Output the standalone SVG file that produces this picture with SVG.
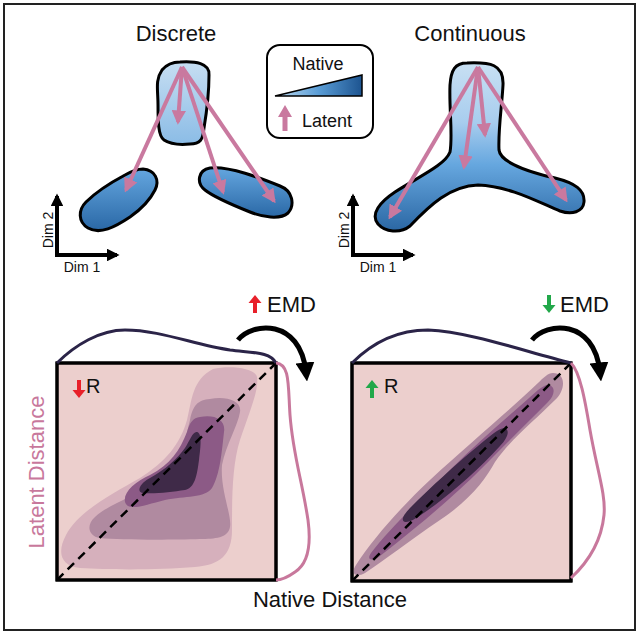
<svg xmlns="http://www.w3.org/2000/svg" width="640" height="639" viewBox="0 0 640 639">
<defs>
<style>
.t{font-family:"Liberation Sans",Arial,sans-serif;fill:#111}
.blob{stroke:#000;stroke-width:3;stroke-linejoin:round}
.pa{stroke:#c9799f;stroke-width:4;fill:none;marker-end:url(#ph)}
.ax{stroke:#000;stroke-width:4;fill:none;marker-end:url(#ah)}
.sq{fill:#eccfcd;stroke:#000;stroke-width:3}
.dash{stroke:#000;stroke-width:2.5;stroke-dasharray:9 6;fill:none}
.c1{fill:#d6b0bc}.c2{fill:#b08aa0}.c3{fill:#8c5a86}.c4{fill:#3f2a48}
.top{fill:none;stroke:#2b2448;stroke-width:3}
.side{fill:none;stroke:#c8789c;stroke-width:3}
.curv{fill:none;stroke:#000;stroke-width:5;marker-end:url(#ch)}
</style>
<linearGradient id="gTop" x1="0" y1="0" x2="0" y2="1"><stop offset="0" stop-color="#c6def2"/><stop offset="1" stop-color="#8bbce6"/></linearGradient>
<linearGradient id="gLow" x1="0" y1="0" x2="0" y2="1"><stop offset="0" stop-color="#64a6df"/><stop offset="1" stop-color="#2a68a6"/></linearGradient>
<linearGradient id="gCont" gradientUnits="userSpaceOnUse" x1="0" y1="63" x2="0" y2="232"><stop offset="0" stop-color="#c8e0f3"/><stop offset="0.35" stop-color="#a8cdee"/><stop offset="0.6" stop-color="#66a7df"/><stop offset="1" stop-color="#2a66a3"/></linearGradient>
<linearGradient id="gLeg" x1="0" y1="0" x2="1" y2="0"><stop offset="0" stop-color="#c0dcf2"/><stop offset="0.5" stop-color="#5a9dd6"/><stop offset="1" stop-color="#1d5490"/></linearGradient>
<marker id="ph" viewBox="0 0 10 10" refX="8" refY="5" markerWidth="3.6" markerHeight="3.6" orient="auto" markerUnits="strokeWidth"><path d="M0,0 L10,5 L0,10 Z" fill="#c9799f"/></marker>
<marker id="ah" viewBox="0 0 10 10" refX="8" refY="5" markerWidth="3.2" markerHeight="3.2" orient="auto" markerUnits="strokeWidth"><path d="M0,0 L10,5 L0,10 Z" fill="#000"/></marker>
<marker id="ch" viewBox="0 0 10 10" refX="5" refY="5" markerWidth="3.8" markerHeight="3.8" orient="auto" markerUnits="strokeWidth"><path d="M0,0 L10,5 L0,10 Z" fill="#000"/></marker>
</defs>
<rect x="4" y="4" width="631" height="626" fill="#fff" stroke="#222" stroke-width="2"/>

<g id="discrete">
<text class="t" x="176" y="41" font-size="22" text-anchor="middle">Discrete</text>
<path class="blob" fill="url(#gTop)" d="M180,62 C195,61 210,63 209,75 C209,95 207,110 204,128 C203,140 200,144 190,144 C180,145 170,144 164,140 C158,136 158,120 158,105 C158,90 155,80 162,70 C167,64 173,62 180,62 Z"/>
<path class="blob" fill="url(#gLow)" d="M143,169 C155,170 160,180 155,190 C150,200 140,210 130,217 C115,227 100,235 88,228 C78,222 78,210 86,202 C96,192 110,183 125,175 C132,171 138,169 143,169 Z"/>
<path class="blob" fill="url(#gLow)" d="M210,168 C230,166 260,178 280,186 C293,191 295,205 288,213 C280,220 262,217 250,212 C235,206 215,198 205,190 C196,183 198,170 210,168 Z"/>
</g>

<g id="continuous">
<text class="t" x="470" y="41" font-size="22" text-anchor="middle">Continuous</text>
<path class="blob" fill="url(#gCont)" d="M467,63 C490,62 504,64 503,85 C502,105 498,130 499,150 C500,160 520,170 555,178 C575,183 585,190 584,202 C583,212 572,215 560,211 C540,203 510,186 478,185 C450,186 430,205 410,226 C400,234 385,232 378,224 C370,214 380,202 395,192 C420,176 445,165 450,152 C453,135 449,110 450,85 C451,70 455,63 467,63 Z"/>
</g>

<g id="legend">
<rect x="267" y="45" width="106" height="93" rx="13" fill="#fff" stroke="#000" stroke-width="2"/>
<text class="t" x="318" y="70" font-size="18" text-anchor="middle">Native</text>
<path d="M275,96 L362,75 L362,96 Z" fill="url(#gLeg)" stroke="#000" stroke-width="1.5"/>
<path d="M282.5,131 L282.5,117 L278,117 L285,105 L292,117 L287.5,117 L287.5,131 Z" fill="#c9799f"/>
<text class="t" x="302" y="127" font-size="18">Latent</text>
</g>

<g id="connectors">
<line class="pa" x1="182" y1="67" x2="178" y2="122"/>
<line class="pa" x1="182" y1="67" x2="126" y2="190"/>
<line class="pa" x1="182" y1="67" x2="223" y2="192"/>
<line class="pa" x1="182" y1="67" x2="274" y2="201"/>
<line class="pa" x1="478" y1="67" x2="390" y2="217"/>
<line class="pa" x1="478" y1="67" x2="464" y2="167"/>
<line class="pa" x1="478" y1="67" x2="485" y2="135"/>
<line class="pa" x1="478" y1="67" x2="566" y2="200"/>
<line class="ax" x1="57" y1="257" x2="57" y2="196"/>
<line class="ax" x1="55" y1="255" x2="117" y2="255"/>
<line class="ax" x1="353" y1="257" x2="353" y2="196"/>
<line class="ax" x1="351" y1="255" x2="413" y2="255"/>
</g>

<g id="axis-labels">
<text class="t" x="82" y="272" font-size="14" text-anchor="middle">Dim 1</text>
<text class="t" x="0" y="0" font-size="14" text-anchor="middle" transform="translate(53,230) rotate(-90)">Dim 2</text>
<text class="t" x="378" y="272" font-size="14" text-anchor="middle">Dim 1</text>
<text class="t" x="0" y="0" font-size="14" text-anchor="middle" transform="translate(349,230) rotate(-90)">Dim 2</text>
</g>

<g id="plot-left">
<rect class="sq" x="57" y="363" width="219" height="217"/>
<path class="c1" d="M213,369 C230,365 255,368 257,377 C259,390 250,410 240,440 C232,465 232,500 232,530 C232,555 220,565 195,567 C160,570 110,570 80,568 C60,566 57,552 66,535 C78,512 110,495 140,478 C165,462 180,445 187,420 C192,400 192,380 213,369 Z"/>
<path class="c2" d="M210,399 C225,396 242,400 240,412 C238,425 226,445 222,465 C220,490 232,515 230,527 C228,538 215,539 200,539 C170,540 120,540 100,538 C88,536 86,525 95,517 C110,503 140,495 160,480 C180,465 185,440 190,420 C193,405 198,400 210,399 Z"/>
<path class="c3" d="M200,417 C215,414 226,420 224,432 C222,450 220,475 212,488 C205,498 185,496 165,500 C145,505 128,512 125,502 C123,492 135,482 150,475 C170,465 180,450 187,432 C190,422 193,418 200,417 Z"/>
<path class="c4" d="M197,432 C202,433 201,445 199,460 C197,475 195,488 185,490 C172,492 155,494 143,493 C136,492 140,483 150,478 C165,470 178,458 185,448 C190,440 193,431 197,432 Z"/>
<rect x="57" y="363" width="219" height="217" fill="none" stroke="#000" stroke-width="3"/>
<line class="dash" x1="57" y1="580" x2="276" y2="363"/>
<path class="top" d="M57,363 C75,345 100,330 125,330 C160,330 195,345 230,350 C255,353 270,352 276,363"/>
<path class="side" d="M276,363 C290,364 288,385 290,415 C293,455 302,480 308,520 C312,550 306,565 295,572 C288,577 282,580 276,580"/>
<path class="curv" d="M238,340 C252,322 300,318 306,372"/>
<path d="M253,313 L253,303 L248.5,303 L255,295 L261.5,303 L257,303 L257,313 Z" fill="#e8202a"/>
<text class="t" x="267" y="312" font-size="22">EMD</text>
<path d="M77,380 L77,390 L72.5,390 L79,398 L85.5,390 L81,390 L81,380 Z" fill="#e8202a"/>
<text class="t" x="86" y="393" font-size="20">R</text>
</g>

<g id="plot-right">
<rect class="sq" x="352" y="363" width="219" height="218"/>
<path class="c2" d="M553,373 C566,373 566,390 555,400 C535,420 510,440 495,462 C485,480 470,500 440,520 C410,540 385,560 365,573 C356,578 350,574 356,565 C372,540 400,508 430,480 C470,443 510,410 538,383 C543,378 548,373 553,373 Z"/>
<path class="c3" d="M548,385 C556,386 555,395 548,402 C525,425 500,450 480,470 C455,495 420,525 380,556 C372,562 366,560 371,553 C390,528 420,500 450,470 C480,440 510,415 538,390 C542,387 545,385 548,385 Z"/>
<path class="c4" d="M505,428 C510,430 508,438 500,446 C480,468 455,490 435,505 C420,516 410,523 405,522 C400,520 404,514 412,506 C430,488 455,465 478,446 C490,436 500,427 505,428 Z"/>
<rect x="352" y="363" width="219" height="218" fill="none" stroke="#000" stroke-width="3"/>
<line class="dash" x1="352" y1="581" x2="571" y2="363"/>
<path class="top" d="M352,363 C370,345 395,330 428,330 C470,332 520,350 571,363"/>
<path class="side" d="M571,363 C580,372 585,400 590,430 C597,470 606,495 604,515 C601,545 585,565 571,578"/>
<path class="curv" d="M532,340 C546,322 594,318 600,372"/>
<path d="M547,295 L547,305 L542.5,305 L549,313 L555.5,305 L551,305 L551,295 Z" fill="#22a84a"/>
<text class="t" x="560" y="312" font-size="22">EMD</text>
<path d="M370,398 L370,388 L365.5,388 L372,380 L378.5,388 L374,388 L374,398 Z" fill="#22a84a"/>
<text class="t" x="384" y="393" font-size="20">R</text>
</g>

<text class="t" x="0" y="0" font-size="22" text-anchor="middle" style="fill:#c8789c" transform="translate(44,472) rotate(-90)">Latent Distance</text>
<text class="t" x="330" y="607" font-size="22" text-anchor="middle">Native Distance</text>
</svg>
